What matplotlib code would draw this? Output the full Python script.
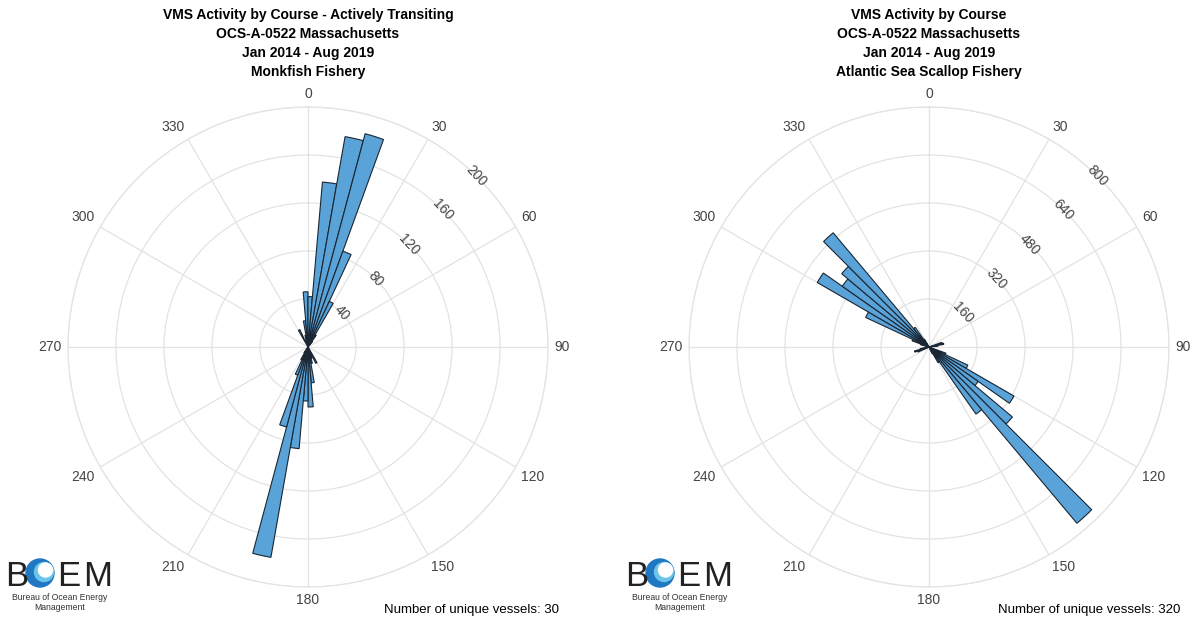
import numpy as np
import matplotlib
matplotlib.use('Agg')
import matplotlib.pyplot as plt
from matplotlib.patches import Circle
from matplotlib.transforms import offset_copy

plt.rcParams['font.family'] = ['Liberation Sans', 'DejaVu Sans']

# course bins (start of 5 degree bin) and vessel-ping counts
monk_dir = [150, 155, 160, 165, 170, 175, 180, 185, 190, 195, 200, 205, 210,
            330, 340, 345, 350, 355, 0, 5, 10, 15, 20, 25, 30, 35]
monk_cnt = [15, 8, 10, 14, 30, 50, 45, 85, 178, 69, 25, 12, 6,
            16, 6, 10, 22, 46, 42, 138, 178, 184, 85, 42, 12, 6]

scal_dir = [70, 75, 80, 110, 115, 120, 125, 130, 135, 140, 145, 150,
            245, 250, 255, 285, 290, 295, 300, 305, 310, 315, 320, 325]
scal_cnt = [45, 50, 30, 60, 143, 327, 200, 363, 767, 273, 60, 25,
            40, 50, 30, 30, 60, 233, 430, 353, 380, 497, 80, 30]

monk_ticks = [40, 80, 120, 160, 200]
scal_ticks = [160, 320, 480, 640, 800]

monk_title = ['VMS Activity by Course - Actively Transiting', 'OCS-A-0522 Massachusetts',
              'Jan 2014 - Aug 2019', 'Monkfish Fishery']
scal_title = ['VMS Activity by Course', 'OCS-A-0522 Massachusetts',
              'Jan 2014 - Aug 2019', 'Atlantic Sea Scallop Fishery']
monk_vessels = 30
scal_vessels = 320

W, H = 1194, 621
BAR = '#5aa3d8'
EDGE = '#1a2633'
GRID = '#e3e3e3'
TXT = '#444444'

fig = plt.figure(figsize=(W / 100, H / 100), dpi=100)


def rose(cx, cy, rad, dirs, counts, ticks, title, vessels):
    ax = fig.add_axes([(cx - rad) / W, (H - cy - rad) / H, 2 * rad / W, 2 * rad / H],
                      projection='polar')
    ax.set_theta_zero_location('N')
    ax.set_theta_direction(-1)
    theta = np.deg2rad(np.array(dirs) + 2.5)
    ax.bar(theta, counts, width=np.deg2rad(5), color=BAR, edgecolor=EDGE,
           linewidth=0.8, zorder=3)
    rmax = ticks[-1]
    ax.set_ylim(0, rmax)
    ax.set_rgrids(ticks, labels=[''] * len(ticks))
    for t in ticks:
        ax.text(np.deg2rad(44.5), t, str(t), rotation=-47, ha='center', va='center',
                fontsize=10, color=TXT, zorder=4)

    # angular labels sit outside the rim, anchored on the side facing the center
    angs = np.arange(0, 360, 30)
    ax.set_thetagrids(angs, [''] * len(angs))
    gap = 6.5
    for a in angs:
        ux, uy = np.sin(np.deg2rad(a)), np.cos(np.deg2rad(a))
        ha = 'left' if ux > 0.1 else ('right' if ux < -0.1 else 'center')
        va = 'bottom' if uy > 0.1 else ('top' if uy < -0.1 else 'center')
        tr = offset_copy(ax.transData, fig=fig, x=gap * ux, y=gap * uy, units='dots')
        ax.text(np.deg2rad(a), rmax, str(a), transform=tr, ha=ha, va=va,
                fontsize=10, color=TXT, clip_on=False)
    ax.grid(color=GRID, linewidth=0.9)
    ax.spines['polar'].set_color(GRID)
    ax.spines['polar'].set_linewidth(0.9)

    fig.text(cx / W, 1 - 8 / H, '\n'.join(title), ha='center', va='top',
             fontsize=10, fontweight='bold', linespacing=1.45)
    fig.text((cx + 251) / W, 1 - 610 / H, f'Number of unique vessels: {vessels}',
             ha='right', va='center', fontsize=9.5)
    return ax


def logo(x0):
    lax = fig.add_axes([0, 0, 1, 1])
    lax.set_xlim(0, W)
    lax.set_ylim(H, 0)
    lax.axis('off')
    lax.patch.set_alpha(0)
    base = 586
    lax.text(x0, base, 'B', fontsize=25, ha='left', va='baseline', color='#222222')
    cx, cy, r = x0 + 35, 573, 14
    lax.add_patch(Circle((cx, cy), r, color='#1f78c1'))
    lax.add_patch(Circle((cx + 4, cy - 1), r - 4.5, color='#6cc4ea'))
    lax.add_patch(Circle((cx + 5.5, cy - 3), r - 7, color='white'))
    lax.text(x0 + 52, base, 'E', fontsize=25, ha='left', va='baseline', color='#222222')
    lax.text(x0 + 78, base, 'M', fontsize=25, ha='left', va='baseline', color='#222222')
    lax.text(x0 + 55, 597, 'Bureau of Ocean Energy', fontsize=6.2, ha='center',
             va='center', color='#333333')
    lax.text(x0 + 55, 607, 'Management', fontsize=6.2, ha='center',
             va='center', color='#333333')


rose(308, 347, 240, monk_dir, monk_cnt, monk_ticks, monk_title, monk_vessels)
rose(929, 347, 240, scal_dir, scal_cnt, scal_ticks, scal_title, scal_vessels)
logo(5)
logo(625)

fig.savefig('out.png', dpi=100)
